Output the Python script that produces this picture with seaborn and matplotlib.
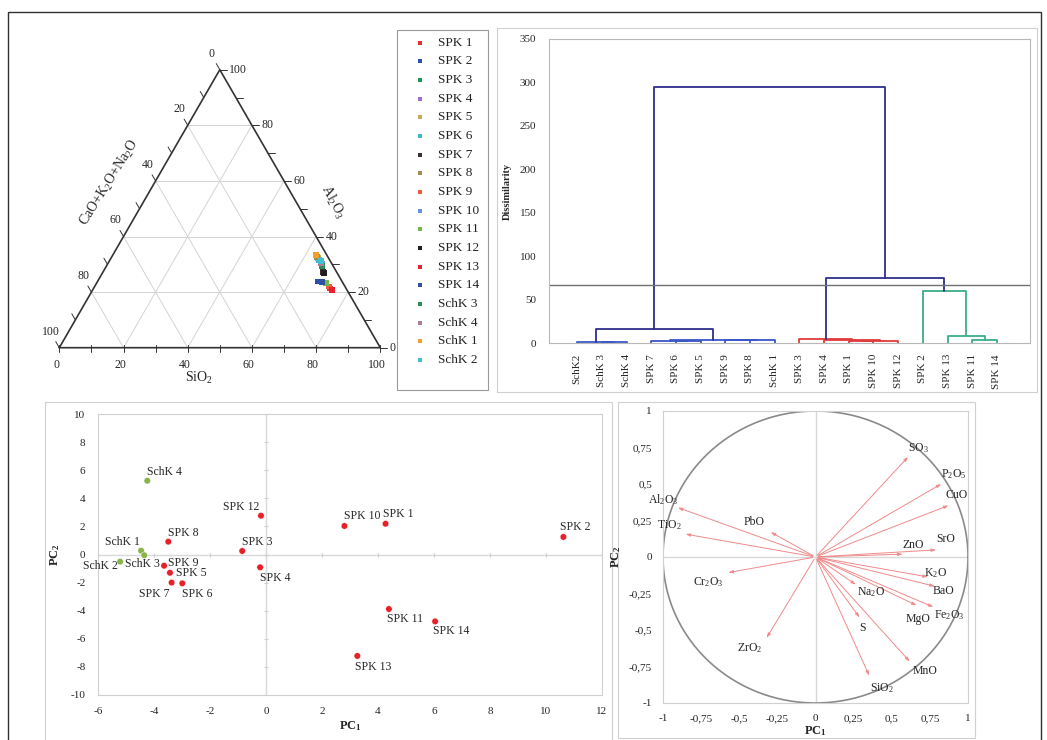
import numpy as np
import pandas as pd
import matplotlib
matplotlib.use("Agg")
import matplotlib.pyplot as plt
from matplotlib.patches import Rectangle
import seaborn as sns

# ---------------- data ----------------
samples = ["SPK 1", "SPK 2", "SPK 3", "SPK 4", "SPK 5", "SPK 6", "SPK 7", "SPK 8", "SPK 9",
           "SPK 10", "SPK 11", "SPK 12", "SPK 13", "SPK 14", "SchK 3", "SchK 4", "SchK 1", "SchK 2"]
sample_colors = ["#e8302a", "#2a4fb0", "#1a9a5a", "#9b6fd0", "#c8a85a", "#3ab8c8", "#3a3030",
                 "#a09050", "#f05a3a", "#6a90e0", "#70b850", "#202020", "#e82030", "#3050a0",
                 "#2e8b57", "#b07a9a", "#f0a030", "#40c0d0"]
tern_sio2 = [73.8, 68.6, 65.9, 67.5, 64.4, 65.2, 68.6, 64.0, 73.0, 66.8, 71.3, 68.9, 74.4, 70.0, 67.0, 66.3, 63.2, 65.9]
tern_al2o3 = [21.3, 23.8, 31.0, 29.0, 32.4, 31.6, 27.3, 32.7, 22.0, 30.0, 23.4, 27.0, 20.9, 23.7, 29.5, 30.5, 33.3, 31.2]
tern_flux = [4.9, 7.6, 3.1, 3.5, 3.2, 3.2, 4.1, 3.3, 5.0, 3.2, 5.3, 4.1, 4.7, 6.3, 3.5, 3.2, 3.5, 2.9]
tern_ticks = [0, 20, 40, 60, 80, 100]

dendro_leaves = ["SchK2", "SchK 3", "SchK 4", "SPK 7", "SPK 6", "SPK 5", "SPK 9", "SPK 8", "SchK 1",
                 "SPK 3", "SPK 4", "SPK 1", "SPK 10", "SPK 12", "SPK 2", "SPK 13", "SPK 11", "SPK 14"]
# merges: (child a, child b, height, group); ids >= 18 are earlier merges
merge_a = [1, 0, 4, 3, 6, 22, 21, 19, 11, 26, 10, 9, 16, 15, 14, 29, 25]
merge_b = [2, 18, 5, 20, 7, 8, 23, 24, 12, 13, 27, 28, 17, 30, 31, 32, 33]
merge_h = [0.6, 1.2, 2.0, 2.6, 3.0, 3.4, 4.0, 16.5, 2.0, 2.6, 3.8, 4.8, 3.2, 8.6, 59.4, 74.8, 295.2]
merge_grp = ["blue", "blue", "blue", "blue", "blue", "blue", "blue", "navy", "red", "red", "red", "red",
             "green", "green", "green", "navy", "navy"]
cut_level = 66.3
dendro_yticks = [0, 50, 100, 150, 200, 250, 300, 350]

pca_labels = ["SPK 1", "SPK 2", "SPK 3", "SPK 4", "SPK 5", "SPK 6", "SPK 7", "SPK 8", "SPK 9", "SPK 10",
              "SPK 11", "SPK 12", "SPK 13", "SPK 14", "SchK 1", "SchK 2", "SchK 3", "SchK 4"]
pc1 = [4.27, 10.62, -0.85, -0.21, -3.43, -2.99, -3.37, -3.49, -3.64, 2.80, 4.39, -0.18, 3.26, 6.04,
       -4.46, -5.21, -4.35, -4.24]
pc2 = [2.19, 1.25, 0.25, -0.91, -1.30, -2.05, -2.00, 0.91, -0.80, 2.03, -3.88, 2.76, -7.22, -4.76,
       0.27, -0.51, -0.05, 5.25]
pca_group = ["SPK"] * 14 + ["SchK"] * 4

corr_vars = ["SO$_3$", "P$_2$O$_5$", "CuO", "SrO", "ZnO", "K$_2$O", "BaO", "Fe$_2$O$_3$", "MgO",
             "Na$_2$O", "S", "MnO", "SiO$_2$", "ZrO$_2$", "Cr$_2$O$_3$", "TiO$_2$", "Al$_2$O$_3$", "PbO"]
corr_x = [0.62, 0.84, 0.89, 0.81, 0.59, 0.755, 0.80, 0.79, 0.68, 0.28, 0.30, 0.63, 0.36, -0.33, -0.59, -0.87, -0.92, -0.31]
corr_y = [0.70, 0.51, 0.36, 0.05, 0.02, -0.14, -0.205, -0.35, -0.34, -0.20, -0.43, -0.73, -0.83, -0.57, -0.11, 0.16, 0.345, 0.18]
corr_ticks = [-1, -0.75, -0.5, -0.25, 0, 0.25, 0.5, 0.75, 1]

# ---------------- style ----------------
sns.set_theme(style="white")
plt.rcParams["font.family"] = ["Liberation Serif", "DejaVu Serif"]
plt.rcParams["mathtext.fontset"] = "custom"
plt.rcParams["mathtext.rm"] = "Liberation Serif"
plt.rcParams["mathtext.it"] = "Liberation Serif:italic"
plt.rcParams["mathtext.bf"] = "Liberation Serif:bold"
plt.rcParams["axes.linewidth"] = 0.8
plt.rcParams["axes.unicode_minus"] = False

W, H = 1047, 740
fig = plt.figure(figsize=(W / 100, H / 100), dpi=100)


def rect(l, t, r, b):
    return [l / W, 1 - b / H, (r - l) / W, (b - t) / H]


# background / frames
bg = fig.add_axes([0, 0, 1, 1], zorder=-5)
bg.set_xlim(0, W)
bg.set_ylim(H, 0)
bg.axis("off")
frames = [((8, 12, 1041, 750), "#303030", 1.0), ((397, 30, 488, 390), "#9a9a9a", 0.8),
          ((497, 28, 1037, 392), "#d0d0d0", 0.8), ((45, 402, 612, 745), "#d0d0d0", 0.8),
          ((618, 402, 975, 738), "#d0d0d0", 0.8)]
for (l, t, r, b), c, lw in frames:
    bg.add_patch(Rectangle((l, t), r - l, b - t, fill=False, ec=c, lw=lw))

# legend
for i, (name, col) in enumerate(zip(samples, sample_colors)):
    yy = 42.7 + 18.67 * i
    bg.scatter([420], [yy], s=10, marker="s", color=col, linewidths=0)
    bg.text(438, yy, name, fontsize=9.5, va="center", ha="left", color="#222222")

# ---------------- ternary ----------------
sc = 3.21
axT = fig.add_axes(rect(20, 40, 395, 385))
axT.set_xlim((20 - 59.3) / sc, (395 - 59.3) / sc)
axT.set_ylim((347.7 - 385) / sc, (347.7 - 40) / sc)
axT.axis("off")
axT.patch.set_alpha(0)
hh = np.sqrt(3) / 2
for v in [20, 40, 60, 80]:
    axT.plot([v / 2, 100 - v / 2], [v * hh, v * hh], color="#d4d4d4", lw=0.7)
    axT.plot([v, v + (100 - v) / 2], [0, (100 - v) * hh], color="#d4d4d4", lw=0.7)
    axT.plot([100 - v, (100 - v) / 2], [0, (100 - v) * hh], color="#d4d4d4", lw=0.7)
axT.plot([0, 100, 50, 0], [0, 0, 100 * hh, 0], color="#333333", lw=1.2)
for v in range(0, 101, 10):
    axT.plot([v, v], [-1.2, 0.8], color="#333333", lw=0.7)
    rx, ry = 100 - v / 2, v * hh
    axT.plot([rx, rx + 2.2], [ry, ry], color="#333333", lw=0.7)
    lx, ly = 50 - v / 2, (100 - v) * hh
    axT.plot([lx, lx - 1.1], [ly, ly + 1.9], color="#333333", lw=0.7)
for v in tern_ticks:
    axT.text(v - 1.0, -5.5, str(v), ha="center", va="center", fontsize=8.5)
    axT.text(100 - v / 2 + 3.0, v * hh, str(v), ha="left", va="center", fontsize=8.5)
    axT.text(50 - v / 2 - 2.6, (100 - v) * hh + 5.0, str(v), ha="center", va="center", fontsize=8.5)
axT.text(43.5, -9.5, "SiO$_2$", ha="center", va="center", fontsize=10)
axT.text(15.8, 51.5, "CaO+K$_2$O+Na$_2$O", ha="center", va="center", fontsize=10, rotation=58)
axT.text(85.0, 45.5, "Al$_2$O$_3$", ha="center", va="center", fontsize=10, rotation=-62)

tern_df = pd.DataFrame({"sample": samples, "SiO2": tern_sio2, "Al2O3": tern_al2o3, "flux": tern_flux})
tot = tern_df["SiO2"] + tern_df["Al2O3"] + tern_df["flux"]
tern_df["x"] = 100 * (tern_df["SiO2"] + tern_df["Al2O3"] / 2) / tot
tern_df["y"] = 100 * tern_df["Al2O3"] * hh / tot
sns.scatterplot(data=tern_df, x="x", y="y", hue="sample", palette=sample_colors, marker="s", s=18,
                linewidth=0, legend=False, ax=axT, zorder=5)

# ---------------- dendrogram ----------------
axD = fig.add_axes(rect(549, 39, 1030, 343))
n = len(dendro_leaves)
xs = list(range(n))
heights = [0.0] * n
grp_col = {"blue": "#3a56c8", "navy": "#2e2e8c", "red": "#e03a3a", "green": "#3cae88"}
for a, b, h, g in zip(merge_a, merge_b, merge_h, merge_grp):
    xa, xb = xs[a], xs[b]
    ha_, hb_ = heights[a], heights[b]
    seg = pd.DataFrame({"x": [xa, xa, xb, xb], "y": [ha_, h, h, hb_]})
    sns.lineplot(data=seg, x="x", y="y", sort=False, color=grp_col[g], lw=1.3, ax=axD, estimator=None)
    xs.append((xa + xb) / 2)
    heights.append(h)
axD.axhline(cut_level, color="#707070", lw=1.0)
axD.set_xlim(-1.14, 18.34)
axD.set_ylim(0, 350)
axD.set_xticks(range(n))
axD.set_xticklabels(dendro_leaves, rotation=90, fontsize=8)
axD.set_yticks(dendro_yticks)
axD.set_yticklabels([str(t) for t in dendro_yticks], fontsize=8)
axD.tick_params(axis="x", length=0, pad=8)
axD.tick_params(axis="y", length=0, pad=9)
axD.set_xlabel("")
axD.set_ylabel("Dissimilarity", fontsize=7.5, fontweight="bold", labelpad=6)
for s in axD.spines.values():
    s.set_color("#b8b8b8")

# ---------------- PCA scatter ----------------
axP = fig.add_axes(rect(98, 414, 602, 695))
axP.axhline(0, color="#d8d8d8", lw=1.0, zorder=0)
axP.axvline(0, color="#d8d8d8", lw=1.0, zorder=0)
axP.scatter([0] * 11, range(-10, 11, 2), marker="_", s=12, color="#cfcfcf", lw=0.8, zorder=1)
axP.scatter(range(-6, 13, 2), [0] * 10, marker="|", s=12, color="#cfcfcf", lw=0.8, zorder=1)
pca_df = pd.DataFrame({"label": pca_labels, "PC1": pc1, "PC2": pc2, "group": pca_group})
sns.scatterplot(data=pca_df, x="PC1", y="PC2", hue="group", palette={"SPK": "#e8202a", "SchK": "#8ab44a"},
                s=22, linewidth=0.3, edgecolor="#ffffff", legend=False, ax=axP, zorder=4)
pca_off = {"SPK 1": (-3, 4, "left", "bottom"), "SPK 2": (-3, 4, "left", "bottom"),
           "SPK 3": (0, 3, "left", "bottom"), "SPK 4": (0, -5, "left", "top"),
           "SPK 5": (6, 0, "left", "center"), "SPK 6": (0, -5, "left", "top"),
           "SPK 7": (-2, -5, "right", "top"), "SPK 8": (0, 3, "left", "bottom"),
           "SPK 9": (4, 3, "left", "center"), "SPK 10": (0, 4, "left", "bottom"),
           "SPK 11": (-2, -4, "left", "top"), "SPK 12": (-2, 3, "right", "bottom"),
           "SPK 13": (-2, -5, "left", "top"), "SPK 14": (-2, -4, "left", "top"),
           "SchK 1": (-1, 3, "right", "bottom"), "SchK 2": (-2, -4, "right", "center"),
           "SchK 3": (-2, -9, "center", "center"), "SchK 4": (0, 3, "left", "bottom")}
for lab, x, y in zip(pca_labels, pc1, pc2):
    dx, dy, ha, va = pca_off[lab]
    axP.annotate(lab, (x, y), xytext=(dx, dy), textcoords="offset pixels", ha=ha, va=va, fontsize=8.5)
axP.set_xlim(-6, 12)
axP.set_ylim(-10, 10)
axP.set_xticks(range(-6, 13, 2))
axP.set_yticks(range(-10, 11, 2))
axP.tick_params(labelsize=8, length=0, pad=9)
axP.set_xlabel(r"$\mathbf{PC_1}$", fontsize=9, labelpad=2)
axP.set_ylabel(r"$\mathbf{PC_2}$", fontsize=9, labelpad=6)
for s in axP.spines.values():
    s.set_color("#d0d0d0")

# ---------------- correlation circle ----------------
axC = fig.add_axes(rect(663, 411, 968, 703))
axC.axhline(0, color="#d8d8d8", lw=1.0, zorder=0)
axC.axvline(0, color="#d8d8d8", lw=1.0, zorder=0)
t = np.linspace(0, 2 * np.pi, 400)
circ = pd.DataFrame({"x": np.cos(t), "y": np.sin(t)})
sns.lineplot(data=circ, x="x", y="y", sort=False, estimator=None, color="#8a8a8a", lw=1.2, ax=axC)
corr_off = [(8, 7), (10, 8), (5, 9), (7, 11), (8, 9), (5, 4), (6, -4), (13, -7), (-1, -12),
            (13, -6), (1, -8), (13, -7), (12, -10), (-16, -8), (-17, -9), (-14, 9), (-12, 7), (-14, 9)]
for lab, x, y, (dx, dy) in zip(corr_vars, corr_x, corr_y, corr_off):
    axC.annotate("", xy=(x, y), xytext=(0, 0),
                 arrowprops=dict(arrowstyle="-|>,head_length=0.22,head_width=0.07", color="#f08a8a", lw=0.7))
    axC.annotate(lab, (x, y), xytext=(dx, dy), textcoords="offset pixels", ha="center", va="center",
                 fontsize=8.5)
axC.set_xlim(-1, 1)
axC.set_ylim(-1, 1)
fmt = lambda v: ("%g" % v).replace(".", ",")
axC.set_xticks(corr_ticks)
axC.set_xticklabels([fmt(v) for v in corr_ticks])
axC.set_yticks(corr_ticks)
axC.set_yticklabels([fmt(v) for v in corr_ticks])
axC.tick_params(labelsize=8, length=0, pad=8)
axC.set_xlabel(r"$\mathbf{PC_1}$", fontsize=9, labelpad=1)
axC.set_ylabel(r"$\mathbf{PC_2}$", fontsize=9, labelpad=4)
for s in axC.spines.values():
    s.set_color("#d0d0d0")

fig.savefig("out.png", dpi=100)
